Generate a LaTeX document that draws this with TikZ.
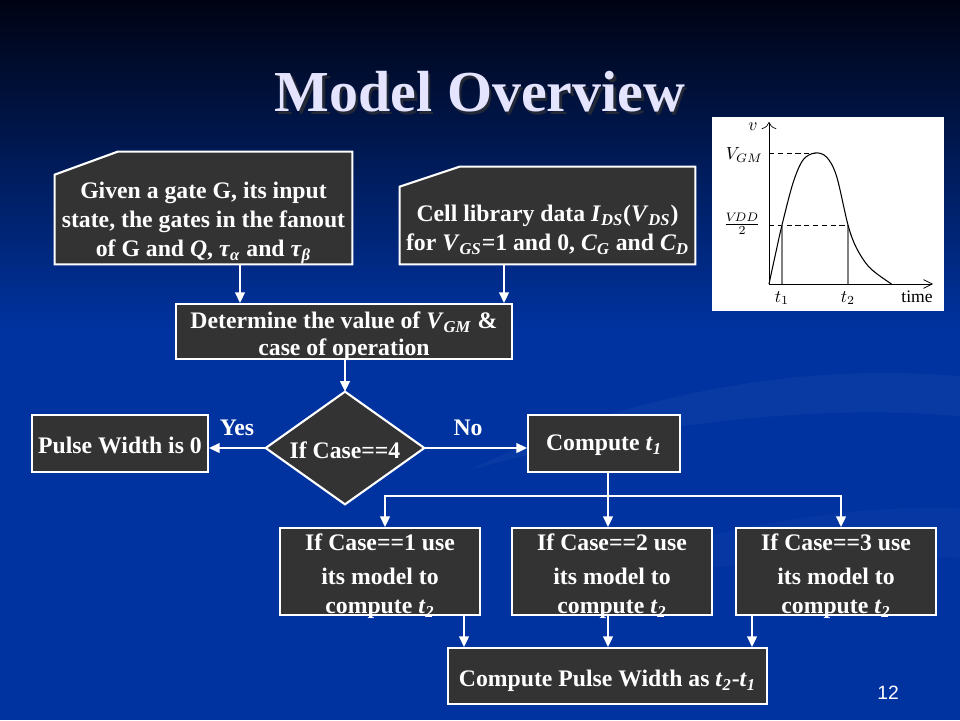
\documentclass[tikz,border=0pt]{standalone}
\usepackage{fontspec}
\setmainfont{Liberation Serif}
\setsansfont{Liberation Sans}
\usetikzlibrary{arrows.meta,calc}
\pgfdeclarelayer{back}
\pgfdeclarelayer{bg}
\pgfsetlayers{back,bg,main}
\definecolor{bgtop}{RGB}{0,3,18}
\definecolor{bgblue}{RGB}{0,51,160}
\definecolor{boxfill}{RGB}{51,51,51}
\definecolor{titlecol}{RGB}{228,228,255}
\newcommand{\sbi}[1]{\textsubscript{\textit{#1}}}
\begin{document}
\begin{tikzpicture}[x=0.02cm,y=-0.02cm,
  txt/.style={text=white, font=\bfseries\fontsize{13.5}{16.4}\selectfont, align=center, inner sep=0pt},
  boxshape/.style={fill=boxfill, draw=white, line width=1.2pt},
  box/.style={boxshape, rectangle, txt},
  blank/.style={rectangle, inner sep=0pt},
  conn/.style={draw=white, line width=1.2pt},
  arr/.style={conn, -{Triangle[length=6pt,width=5.5pt]}},
  glab/.style={font=\fontsize{10}{12}\selectfont, inner sep=0pt}
]
% background
\useasboundingbox (0,0) rectangle (960,720);
\begin{pgfonlayer}{back}
\fill[top color=bgtop, bottom color=bgblue] (0,0) rectangle (960,330);
\fill[bgblue] (0,329) rectangle (960,720);
\begin{scope}
\clip (0,0) rectangle (960,720);
\fill[white, opacity=0.035] (470,470) .. controls (650,380) and (850,360) .. (990,380) -- (990,420) .. controls (850,400) and (650,420) .. (470,470) -- cycle;
\fill[white, opacity=0.025] (520,600) .. controls (700,520) and (880,500) .. (990,510) -- (990,560) .. controls (880,550) and (700,560) .. (520,600) -- cycle;
\end{scope}
\end{pgfonlayer}

% title
\node[font=\bfseries\fontsize{33}{38}\selectfont, text=black!80, opacity=0.7] (titlesh) at (482.5,94.5) {Model Overview};
\node[font=\bfseries\fontsize{33}{38}\selectfont, text=titlecol] (title) at (480,92) {Model Overview};

% input boxes (manual input shape)
\node[blank, minimum width=5.94cm, minimum height=2.24cm] (in1) at (203.5,208) {};
\node[blank, minimum width=5.9cm, minimum height=1.94cm] (in2) at (547.5,215.5) {};
\begin{pgfonlayer}{bg}
\draw[boxshape] (in1.south west) -- ($(in1.north west)+(0,23)$) -- ($(in1.north west)+(63,0)$) -- (in1.north east) -- (in1.south east) -- cycle;
\draw[boxshape] (in2.south west) -- ($(in2.north west)+(0,20)$) -- ($(in2.north west)+(60,0)$) -- (in2.north east) -- (in2.south east) -- cycle;
\end{pgfonlayer}
\node[txt] (in1t) at (203.5,223) {Given a gate G, its input\\ state, the gates in the fanout\\ of G and \textit{Q}, \textit{τ}\sbi{α} and \textit{τ}\sbi{β}};
\node[txt] (in2t) at (547.5,230) {Cell library data \textit{I}\sbi{DS}(\textit{V}\sbi{DS})\\ for \textit{V}\sbi{GS}=1 and 0, \textit{C}\sbi{G} and \textit{C}\sbi{D}};

% determine box
\node[box, minimum width=6.72cm, minimum height=1.1cm] (det) at (344,331.5) {};
\node[txt, font=\bfseries\fontsize{13.5}{15.4}\selectfont] (dett) at (344,336) {Determine the value of \textit{V}\sbi{GM} \&\\ case of operation};

% diamond
\node[blank, txt, minimum width=3.16cm, minimum height=2.24cm] (dia) at (345,448) {};
\begin{pgfonlayer}{bg}
\draw[boxshape] (dia.north) -- (dia.east) -- (dia.south) -- (dia.west) -- cycle;
\end{pgfonlayer}
\node[txt] (diat) at (345,450) {If Case==4};

\node[box, minimum width=3.52cm, minimum height=1.14cm] (pw0) at (120,443.5) {};
\node[txt] (pw0t) at (120,445) {Pulse Width is 0};
\node[box, minimum width=3.04cm, minimum height=1.14cm] (ct1) at (604,443.5) {};
\node[txt] (ct1t) at (604,445) {Compute \textit{t}\sbi{1}};

\node[box, minimum width=4cm, minimum height=1.74cm] (c1) at (380,571.5) {};
\node[box, minimum width=4cm, minimum height=1.74cm] (c2) at (612,571.5) {};
\node[box, minimum width=4cm, minimum height=1.74cm] (c3) at (836,571.5) {};
\node[txt] (c1t) at (380,576.5) {If Case==1 use\\[3pt] its model to\\ compute \textit{t}\sbi{2}};
\node[txt] (c2t) at (612,576.5) {If Case==2 use\\[3pt] its model to\\ compute \textit{t}\sbi{2}};
\node[txt] (c3t) at (836,576.5) {If Case==3 use\\[3pt] its model to\\ compute \textit{t}\sbi{2}};

\node[box, minimum width=6.38cm, minimum height=1.12cm] (pwf) at (607.5,676) {};
\node[txt] (pwft) at (607.5,681) {Compute Pulse Width as \textit{t}\sbi{2}-\textit{t}\sbi{1}};

% connectors
\coordinate (xa) at (240,0);
\coordinate (xb) at (504,0);
\draw[arr] (in1.south -| xa) -- (det.north -| xa);
\draw[arr] (in2.south -| xb) -- (det.north -| xb);
\draw[arr] (det.south -| dia.north) -- (dia.north);
\draw[arr] (dia.west) -- (dia.west -| pw0.east);
\draw[arr] (dia.east) -- (dia.east -| ct1.west);
\node[txt] (yes) at (237,428) {Yes};
\node[txt] (no) at (468,428) {No};

\coordinate (bj) at (608,496);
\coordinate (bl) at (385,496);
\coordinate (br) at (841,496);
\draw[conn] (ct1.south -| bj) -- (bj);
\draw[arr] (bj) -| (bl |- c1.north);
\draw[arr] (bj) -| (br |- c3.north);
\draw[arr] (bj) -- (bj |- c2.north);

\coordinate (d1) at (464,0);
\coordinate (d2) at (608,0);
\coordinate (d3) at (752,0);
\draw[arr] (c1.south -| d1) -- (pwf.north -| d1);
\draw[arr] (c2.south -| d2) -- (pwf.north -| d2);
\draw[arr] (c3.south -| d3) -- (pwf.north -| d3);

% graph inset
\node[blank, fill=white, minimum width=4.64cm, minimum height=3.88cm] (plot) at (828,214) {};
\coordinate (O) at (769,284);
\draw[line width=0.4pt, -{To[length=4pt]}] (O) -- (769,122);
\draw[line width=0.4pt, -{Straight Barb[length=5pt,width=5pt]}] (O) -- (933,284);
\draw[line width=0.4pt, dash pattern=on 3pt off 2pt] (769,153) -- (815,153);
\draw[line width=0.4pt, dash pattern=on 3pt off 2pt] (769,225) -- (848,225);
\draw[gray, line width=0.6pt] (782,225) -- (782,284);
\draw[gray, line width=0.6pt] (848,225) -- (848,284);
\draw[line width=0.6pt] plot[smooth, tension=0.55] coordinates {(769,284) (775.5,254) (782,225) (793,183) (803,160) (815,153) (826.5,157) (836.5,176) (848,225) (856.5,248) (870,268) (891.5,284)};
\node[glab] (lv) at (753,127) {$v$};
\node[glab, anchor=east] (lvgm) at (763,155) {$V_{GM}$};
\node[glab] (lvdd) at (742,224) {$\frac{V\!DD}{2}$};
\node[glab] (lt1) at (782,298) {$t_1$};
\node[glab] (lt2) at (848,298) {$t_2$};
\node[glab] (ltime) at (917,297) {time};

% page number
\node[font=\sffamily\fontsize{11}{13}\selectfont, text=white] (pg) at (888,693) {12};
\end{tikzpicture}
\end{document}
